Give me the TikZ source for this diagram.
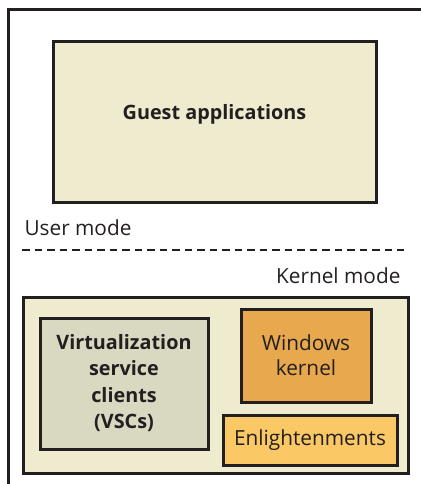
\documentclass[tikz,border=0pt]{standalone}
\usepackage{fontspec}
\setmainfont{Open Sans}
\definecolor{cream}{HTML}{EFEBCF}
\definecolor{vscfill}{HTML}{D9D8C0}
\definecolor{wkfill}{HTML}{E8A84D}
\definecolor{enfill}{HTML}{FAC865}
\definecolor{ink}{HTML}{231F20}
\begin{document}
\begin{tikzpicture}[x=1pt,y=-1pt,
  box/.style={draw=ink, line width=3pt, inner sep=0pt, outer sep=0pt},
  lbl/.style={font=\fontsize{20.8}{25}\selectfont, text=ink, align=center},
  blbl/.style={font=\fontsize{19.8}{26.5}\selectfont\bfseries, text=ink, align=center}]
\useasboundingbox (0,0) rectangle (420,484);
\draw[ink, line width=3pt] (8,490) -- (8,10) -- (430,10);
\draw[box, fill=cream] (53,42) rectangle (376,202);
\node[blbl] (guest) at (214.5,114) {Guest applications};
\node[lbl, anchor=base west] (user) at (21,235) {User mode};
\coordinate (dl) at (22,250);
\coordinate (dr) at (404,250);
\draw[ink, line width=2.4pt, dash pattern=on 7.5pt off 5pt] (dl) -- (dr);
\node[lbl, anchor=base east] (kernel) at (404,283) {Kernel mode};
\draw[box, fill=cream] (23,297) rectangle (408,473);
\draw[box, fill=vscfill] (40,318) rectangle (208,449);
\node[blbl] (vsc) at (124,383) {Virtualization\\service\\clients\\(VSCs)};
\draw[box, fill=wkfill] (241,309) rectangle (371,402);
\node[lbl] (wk) at (306,355.5) {Windows\\kernel};
\draw[box, fill=enfill] (223,415) rectangle (397,465);
\node[lbl] (en) at (310,440) {Enlightenments};
\end{tikzpicture}
\end{document}
